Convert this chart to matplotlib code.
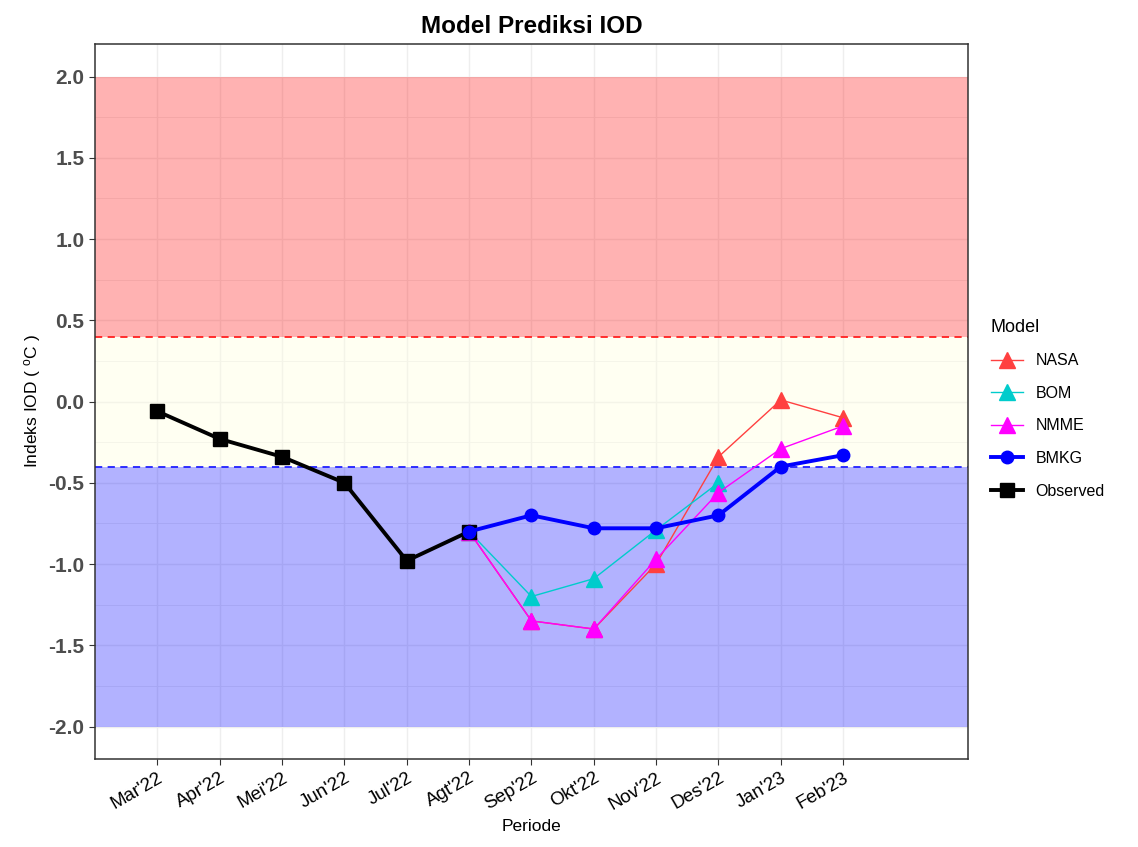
import numpy as np
import matplotlib
matplotlib.use("Agg")
import matplotlib.pyplot as plt
from matplotlib.lines import Line2D

plt.rcParams['font.family'] = ['Liberation Sans', 'DejaVu Sans']
plt.rcParams['mathtext.default'] = 'regular'

# Periods on the x axis
periods = ["Mar'22", "Apr'22", "Mei'22", "Jun'22", "Jul'22", "Agt'22",
           "Sep'22", "Okt'22", "Nov'22", "Des'22", "Jan'23", "Feb'23"]

# Observed index, Mar'22 .. Agt'22
observed = [-0.06, -0.23, -0.34, -0.50, -0.98, -0.80]

# Model predictions, Agt'22 .. Feb'23
nasa = [-0.80, -1.35, -1.40, -1.00, -0.34, 0.01, -0.10]
bom = [-0.80, -1.20, -1.09, -0.79, -0.50]
nmme = [-0.80, -1.35, -1.40, -0.97, -0.56, -0.29, -0.15]
bmkg = [-0.80, -0.70, -0.78, -0.78, -0.70, -0.40, -0.33]

x_all = np.arange(1, len(periods) + 1)
x_obs = x_all[:len(observed)]
x_mod = x_all[5:]

fig = plt.figure(figsize=(11.38, 8.47), dpi=100)
ax = fig.add_axes([0.0835, 0.1039, 0.767, 0.844])

# grid
gc = '#EEEEEE'
for y in np.arange(-2.0, 2.01, 0.5):
    ax.axhline(y, color=gc, lw=1.0, zorder=0)
for y in np.arange(-1.75, 2.0, 0.5):
    ax.axhline(y, color=gc, lw=0.6, zorder=0)
for x in x_all:
    ax.axvline(x, color=gc, lw=1.0, zorder=0)

# background bands
ax.axhspan(0.4, 2.0, color='#FF0000', alpha=0.3, lw=0, zorder=1)
ax.axhspan(-0.4, 0.4, color='#FFFFE0', alpha=0.4, lw=0, zorder=1)
ax.axhspan(-2.0, -0.4, color='#0000FF', alpha=0.3, lw=0, zorder=1)
ax.axhline(0.4, color='#FF2020', ls=(0, (4, 3)), lw=1.3, zorder=2)
ax.axhline(-0.4, color='#2020FF', ls=(0, (4, 3)), lw=1.3, zorder=2)

# series
ax.plot(x_mod, nasa, color='#FF4040', lw=1.0, marker='^', ms=11, zorder=3)
ax.plot(x_mod[:len(bom)], bom, color='#00CCCC', lw=1.0, marker='^', ms=11, zorder=4)
ax.plot(x_mod, nmme, color='#FF00FF', lw=1.0, marker='^', ms=11, zorder=5)
ax.plot(x_obs, observed, color='black', lw=2.8, marker='s', ms=10, zorder=6)
ax.plot(x_mod, bmkg, color='#0000FF', lw=2.8, marker='o', ms=9, zorder=7)

ax.set_xlim(0, 14)
ax.set_ylim(-2.2, 2.2)
ax.set_xticks(x_all)
ax.set_xticklabels(periods, rotation=30, ha='right', rotation_mode='anchor',
                   fontsize=13.5, color='black')
ax.set_yticks(np.arange(-2.0, 2.01, 0.5))
ax.set_yticklabels(['%.1f' % v for v in np.arange(-2.0, 2.01, 0.5)],
                   fontsize=15, fontweight='bold', color='#4D4D4D')
ax.tick_params(axis='both', length=4, color='#333333')
for s in ax.spines.values():
    s.set_color('#333333')
    s.set_linewidth(1.1)

ax.set_xlabel('Periode', fontsize=12.5, labelpad=4)
ax.set_ylabel('Indeks IOD ( $^{o}$C )', fontsize=12.5)
ax.set_title('Model Prediksi IOD', fontsize=17.5, fontweight='bold', pad=8)

handles = [
    Line2D([], [], color='#FF4040', marker='^', ms=11, lw=1.0),
    Line2D([], [], color='#00CCCC', marker='^', ms=11, lw=1.0),
    Line2D([], [], color='#FF00FF', marker='^', ms=11, lw=1.0),
    Line2D([], [], color='#0000FF', marker='o', ms=9, lw=2.8),
    Line2D([], [], color='black', marker='s', ms=10, lw=2.8),
]
leg = ax.legend(handles, ['NASA', 'BOM', 'NMME', 'BMKG', 'Observed'],
                title='Model', loc='center left', bbox_to_anchor=(1.01, 0.49),
                frameon=False, fontsize=11.5, title_fontsize=13,
                handlelength=2.0, labelspacing=1.1, alignment='left')

fig.savefig('out.png', dpi=100)
